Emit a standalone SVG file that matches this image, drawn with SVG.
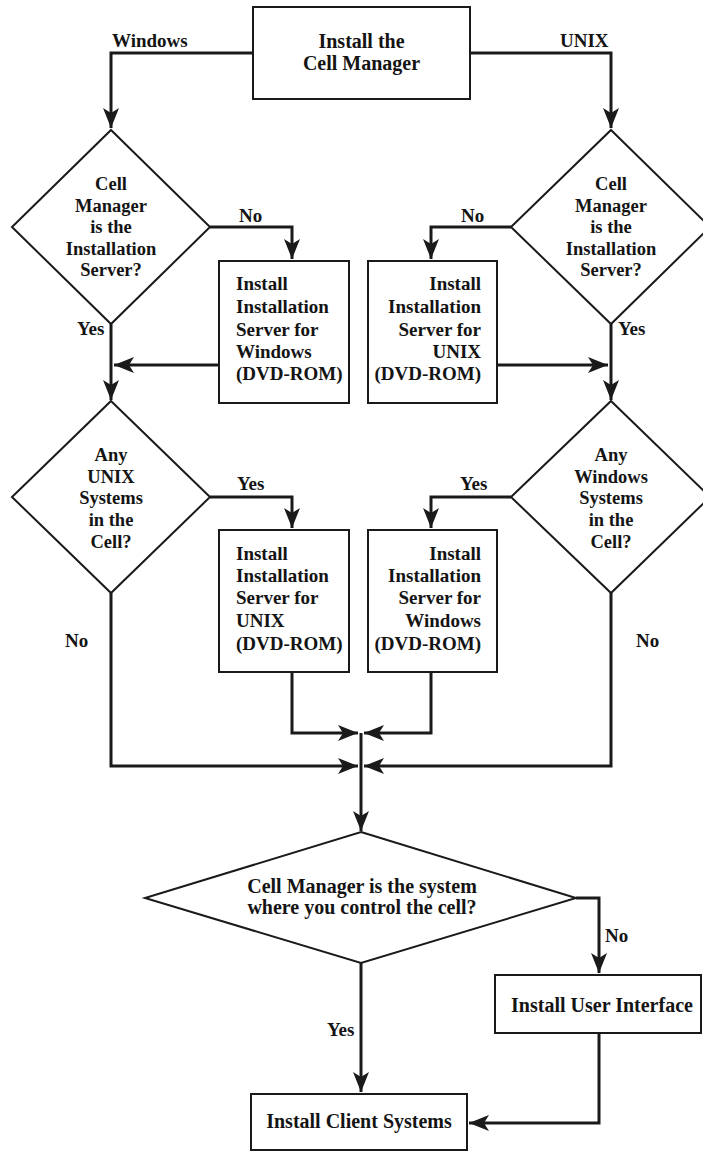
<svg xmlns="http://www.w3.org/2000/svg" width="703" height="1153" viewBox="0 0 703 1153">
<style>
  .box { fill: #fff; stroke: #1a1a1a; stroke-width: 2; }
  .dia { fill: #fff; stroke: #1a1a1a; stroke-width: 2; }
  .t { font-family: 'Liberation Serif', 'Times New Roman', serif; font-weight: bold; fill: #141414; }
  .bt { font-size: 19px; }
  .bb { font-size: 20px; }
  .dt { font-size: 18.5px; text-anchor: middle; }
  .lb { font-size: 19px; }
  .c { fill: none; stroke: #1a1a1a; stroke-width: 3; }
  .a { marker-end: url(#arr); }
</style>
<defs>
  <marker id="arr" markerUnits="userSpaceOnUse" markerWidth="22" markerHeight="18" refX="20" refY="8" orient="auto" viewBox="0 0 22 16">
    <path d="M0,0 L20,8 L0,16 L5,8 Z" fill="#1a1a1a"/>
  </marker>
</defs>
<rect width="703" height="1153" fill="#fff"/>

<g id="connectors">
  <path class="c a" d="M253,53 H111 V128"/>
  <path class="c a" d="M470,53 H611 V128"/>
  <path class="c a" d="M210,227 H292 V259"/>
  <path class="c a" d="M511,227 H431 V259"/>
  <path class="c a" d="M111,324 V400"/>
  <path class="c a" d="M611,324 V400"/>
  <path class="c a" d="M219,365 H114"/>
  <path class="c a" d="M497,365 H608"/>
  <path class="c a" d="M210,497 H292 V528"/>
  <path class="c a" d="M511,497 H431 V528"/>
  <path class="c a" d="M292,672 V733 H358"/>
  <path class="c a" d="M431,672 V733 H364"/>
  <path class="c a" d="M111,593 V766 H358"/>
  <path class="c a" d="M611,593 V766 H364"/>
  <path class="c a" d="M361,733 V831"/>
  <path class="c a" d="M576,898 H599 V973"/>
  <path class="c a" d="M361,963 V1092"/>
  <path class="c a" d="M599,1033 V1123 H469"/>
  <text class="t lb" x="112" y="47">Windows</text>
  <text class="t lb" x="560" y="47">UNIX</text>
  <text class="t lb" x="239" y="222">No</text>
  <text class="t lb" x="461" y="222">No</text>
  <text class="t lb" x="77" y="335">Yes</text>
  <text class="t lb" x="618" y="335">Yes</text>
  <text class="t lb" x="237" y="490">Yes</text>
  <text class="t lb" x="460" y="490">Yes</text>
  <text class="t lb" x="65" y="647">No</text>
  <text class="t lb" x="636" y="647">No</text>
  <text class="t lb" x="605" y="942">No</text>
  <text class="t lb" x="327" y="1036">Yes</text>
</g>

<g id="n-start">
  <rect class="box" x="253" y="7" width="217" height="92"/>
  <text class="t bb" x="361.5" y="48" text-anchor="middle">Install the</text>
  <text class="t bb" x="361.5" y="70" text-anchor="middle">Cell Manager</text>
</g>

<g id="d-win-cm">
  <polygon class="dia" points="111,130 210,227 111,324 12,227"/>
  <text class="t dt" x="111" y="190">Cell</text>
  <text class="t dt" x="111" y="212">Manager</text>
  <text class="t dt" x="111" y="233">is the</text>
  <text class="t dt" x="111" y="255">Installation</text>
  <text class="t dt" x="111" y="276">Server?</text>
</g>

<g id="d-unix-cm">
  <polygon class="dia" points="611,130 710,227 611,324 511,227"/>
  <text class="t dt" x="611" y="190">Cell</text>
  <text class="t dt" x="611" y="212">Manager</text>
  <text class="t dt" x="611" y="233">is the</text>
  <text class="t dt" x="611" y="255">Installation</text>
  <text class="t dt" x="611" y="276">Server?</text>
</g>

<g id="b-is-win1">
  <rect class="box" x="219" y="261" width="130" height="142"/>
  <text class="t bt" x="236" y="290">Install</text>
  <text class="t bt" x="236" y="313">Installation</text>
  <text class="t bt" x="236" y="336">Server for</text>
  <text class="t bt" x="236" y="358">Windows</text>
  <text class="t bt" x="236" y="380">(DVD-ROM)</text>
</g>

<g id="b-is-unix1">
  <rect class="box" x="368" y="261" width="129" height="142"/>
  <text class="t bt" x="481" y="290" text-anchor="end">Install</text>
  <text class="t bt" x="481" y="313" text-anchor="end">Installation</text>
  <text class="t bt" x="481" y="336" text-anchor="end">Server for</text>
  <text class="t bt" x="481" y="358" text-anchor="end">UNIX</text>
  <text class="t bt" x="481" y="380" text-anchor="end">(DVD-ROM)</text>
</g>

<g id="d-any-unix">
  <polygon class="dia" points="111,401 210,497 111,593 12,497"/>
  <text class="t dt" x="111" y="461">Any</text>
  <text class="t dt" x="111" y="483">UNIX</text>
  <text class="t dt" x="111" y="504">Systems</text>
  <text class="t dt" x="111" y="526">in the</text>
  <text class="t dt" x="111" y="548">Cell?</text>
</g>

<g id="d-any-win">
  <polygon class="dia" points="611,401 710,497 611,593 511,497"/>
  <text class="t dt" x="611" y="461">Any</text>
  <text class="t dt" x="611" y="483">Windows</text>
  <text class="t dt" x="611" y="504">Systems</text>
  <text class="t dt" x="611" y="526">in the</text>
  <text class="t dt" x="611" y="548">Cell?</text>
</g>

<g id="b-is-unix2">
  <rect class="box" x="219" y="530" width="130" height="142"/>
  <text class="t bt" x="236" y="560">Install</text>
  <text class="t bt" x="236" y="582">Installation</text>
  <text class="t bt" x="236" y="604">Server for</text>
  <text class="t bt" x="236" y="627">UNIX</text>
  <text class="t bt" x="236" y="650">(DVD-ROM)</text>
</g>

<g id="b-is-win2">
  <rect class="box" x="368" y="530" width="129" height="142"/>
  <text class="t bt" x="481" y="560" text-anchor="end">Install</text>
  <text class="t bt" x="481" y="582" text-anchor="end">Installation</text>
  <text class="t bt" x="481" y="604" text-anchor="end">Server for</text>
  <text class="t bt" x="481" y="627" text-anchor="end">Windows</text>
  <text class="t bt" x="481" y="650" text-anchor="end">(DVD-ROM)</text>
</g>

<g id="d-control">
  <polygon class="dia" points="361,832 576,898 361,963 145,898"/>
  <text class="t bb" x="362" y="893" text-anchor="middle">Cell Manager is the system</text>
  <text class="t bb" x="362" y="914" text-anchor="middle">where you control the cell?</text>
</g>

<g id="b-ui">
  <rect class="box" x="495" y="975" width="206" height="58"/>
  <text class="t bb" x="602" y="1012" text-anchor="middle">Install User Interface</text>
</g>

<g id="b-clients">
  <rect class="box" x="251" y="1094" width="216" height="56"/>
  <text class="t bb" x="359" y="1128" text-anchor="middle">Install Client Systems</text>
</g>
</svg>
